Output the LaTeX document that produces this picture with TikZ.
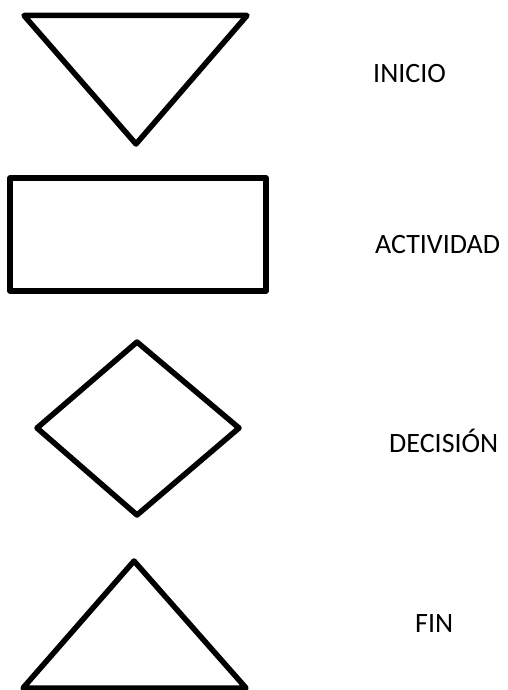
\documentclass[tikz,border=0pt]{standalone}
\usepackage{fontspec}
\setmainfont{Carlito}
\begin{document}
\begin{tikzpicture}[x=1pt,y=-1pt,
  shapeline/.style={draw=black,line width=5.5pt,line join=round},
  lbl/.style={anchor=base west,inner sep=0pt,font=\fontsize{28}{34}\selectfont}]
\useasboundingbox (0,0) rectangle (507,690);
% INICIO: inverted triangle
\draw[shapeline] (24,15.5) -- (247,15.5) -- (136,144) -- cycle;
% ACTIVIDAD: rectangle
\draw[shapeline] (10,178) rectangle (266,291);
% DECISION: diamond
\draw[shapeline] (137,342) -- (239,428) -- (137,515) -- (37,428) -- cycle;
% FIN: triangle
\draw[shapeline] (134,561) -- (246,688) -- (23,688) -- cycle;
% labels
\node[lbl] (inicio) at (373,83) {INICIO};
\node[lbl] (actividad) at (375,253) {ACTIVIDAD};
\node[lbl] (decision) at (389,452) {DECISIÓN};
\node[lbl] (fin) at (415,632) {FIN};
\end{tikzpicture}
\end{document}
